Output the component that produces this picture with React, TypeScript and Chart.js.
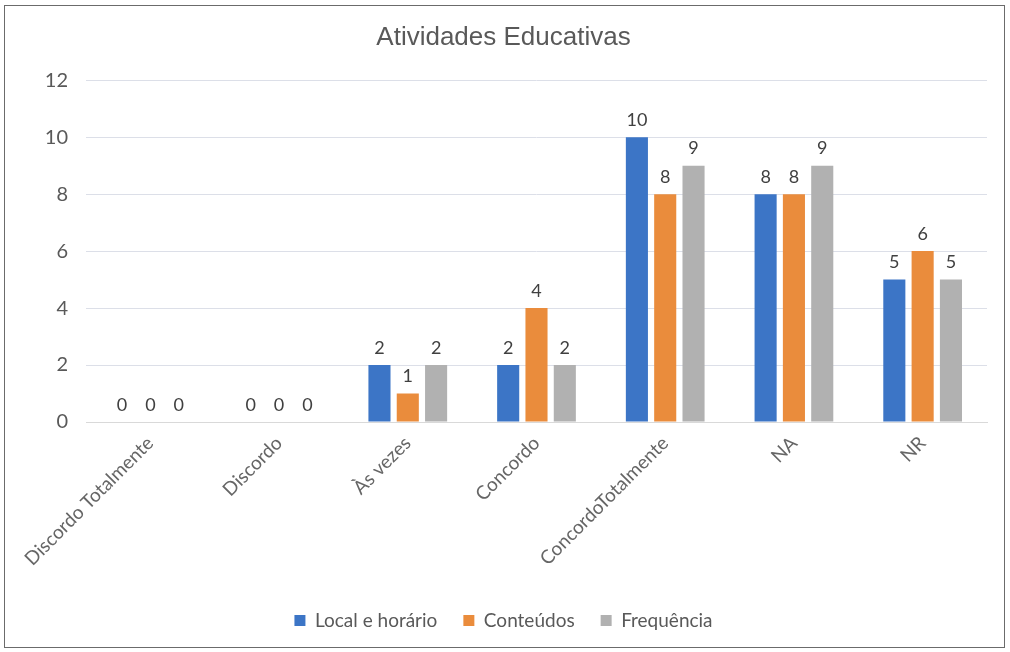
import React, { useEffect, useRef } from "react";
import { Chart, registerables } from "chart.js";

Chart.register(...registerables);

const categories = [
  "Discordo Totalmente",
  "Discordo",
  "Às vezes",
  "Concordo",
  "ConcordoTotalmente",
  "NA",
  "NR",
];
const localHorario = [0, 0, 2, 2, 10, 8, 5];
const conteudos = [0, 0, 1, 4, 8, 8, 6];
const frequencia = [0, 0, 2, 2, 9, 9, 5];
const seriesNames = ["Local e horário", "Conteúdos", "Frequência"];
const yTicks = [0, 2, 4, 6, 8, 10, 12];

const FONT = "Lato, 'Open Sans', sans-serif";

const valueLabels = {
  id: "valueLabels",
  afterDatasetsDraw(chart: any) {
    const ctx = chart.ctx;
    ctx.save();
    ctx.font = `18px ${FONT}`;
    ctx.fillStyle = "#404040";
    ctx.textAlign = "center";
    ctx.textBaseline = "bottom";
    chart.data.datasets.forEach((ds: any, i: number) => {
      const meta = chart.getDatasetMeta(i);
      meta.data.forEach((el: any, j: number) => {
        ctx.fillText(String(ds.data[j]), el.x, el.y - 8);
      });
    });
    ctx.restore();
  },
};

export default function App() {
  const ref = useRef<HTMLCanvasElement | null>(null);
  useEffect(() => {
    if (!ref.current) return;
    const chart = new Chart(ref.current, {
      type: "bar",
      data: {
        labels: categories,
        datasets: [
          { label: seriesNames[0], data: localHorario, backgroundColor: "#3c75c6" },
          { label: seriesNames[1], data: conteudos, backgroundColor: "#ea8c3c" },
          { label: seriesNames[2], data: frequencia, backgroundColor: "#b1b1b1" },
        ],
      },
      options: {
        animation: false,
        responsive: false,
        maintainAspectRatio: false,
        datasets: { bar: { categoryPercentage: 0.66, barPercentage: 0.78 } },
        layout: { padding: { left: 20, right: 23, top: 0, bottom: 12 } },
        plugins: {
          title: {
            display: true,
            text: "Atividades Educativas",
            color: "#595959",
            font: { family: "'Liberation Sans', Arial, sans-serif", size: 26, weight: "normal" },
            padding: { top: 22, bottom: 27 },
          },
          legend: {
            position: "bottom",
            labels: {
              boxWidth: 11,
              boxHeight: 11,
              color: "#595959",
              font: { family: FONT, size: 19 },
              padding: 26,
            },
          },
          tooltip: { enabled: false },
        },
        scales: {
          x: {
            grid: { display: false },
            border: { color: "#d9d9d9" },
            ticks: {
              minRotation: 45,
              maxRotation: 45,
              color: "#666666",
              font: { family: FONT, size: 19 },
              padding: 2,
            },
            afterFit: (s: any) => {
              s.height = 163;
            },
          },
          y: {
            min: 0,
            max: 12,
            border: { display: false },
            grid: { color: "#dcdfe8", drawTicks: false },
            afterBuildTicks: (s: any) => {
              s.ticks = yTicks.map((v) => ({ value: v }));
            },
            ticks: {
              color: "#595959",
              font: { family: FONT, size: 20 },
              padding: 18,
            },
            afterFit: (s: any) => {
              s.width = 66;
            },
          },
        },
      },
      plugins: [valueLabels],
    });
    return () => chart.destroy();
  }, []);

  return (
    <div style={{ position: "fixed", left: 0, top: 0, width: 1010, height: 652, background: "#fff" }}>
      <canvas ref={ref} width={1010} height={652} style={{ position: "absolute", left: 0, top: 0 }} />
      <div
        style={{
          position: "absolute",
          left: 4,
          top: 5,
          width: 999,
          height: 641,
          border: "1px solid #6b6b6b",
          pointerEvents: "none",
        }}
      />
    </div>
  );
}
